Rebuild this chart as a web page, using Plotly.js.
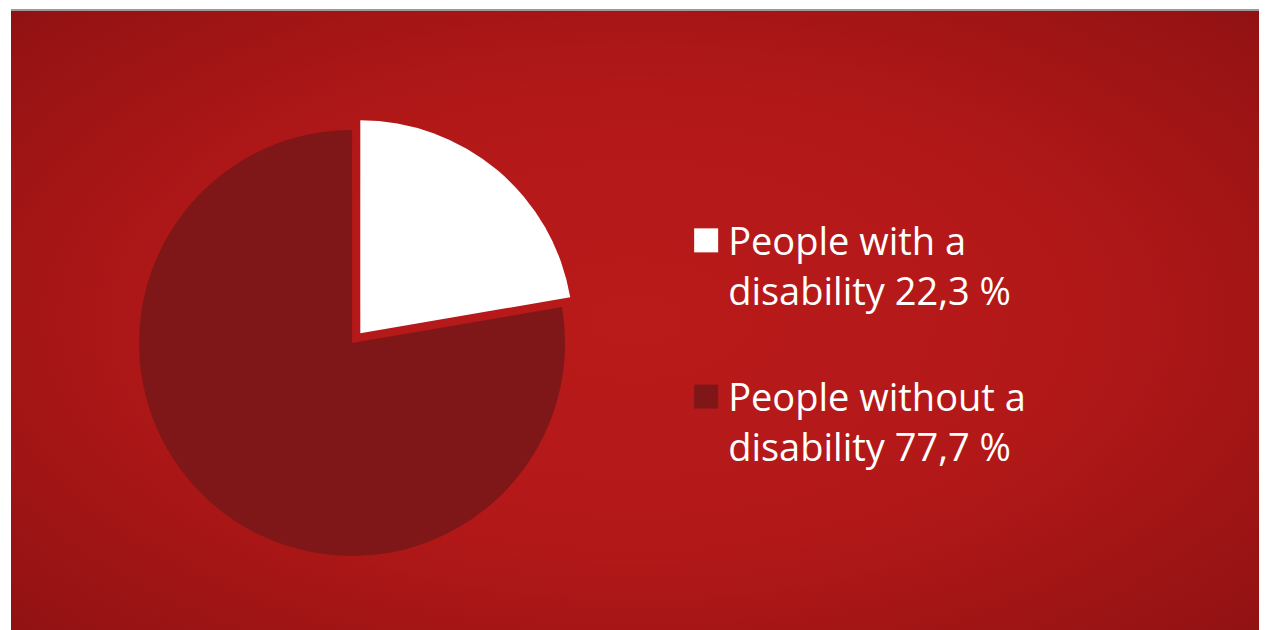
<!DOCTYPE html>
<html>
<head>
<meta charset="utf-8">
<script src="https://cdn.plot.ly/plotly-3.0.1.min.js"></script>
<style>
  html, body { margin: 0; padding: 0; background: #ffffff; }
  #wrap { position: relative; width: 1265px; height: 630px; overflow: hidden; }
  #bg {
    position: absolute; left: 11px; top: 11px; width: 1248px; height: 619px;
    background: radial-gradient(ellipse 75% 80% at 50% 50%, #b91a1a 0%, #b31818 45%, #9e1415 75%, #8a1112 100%);
  }
  #topline { position: absolute; left: 11px; top: 9px; width: 1248px; height: 2px; background: #a39696; }
  #chart { position: absolute; left: 0; top: 0; width: 1265px; height: 630px; }
</style>
</head>
<body>
<div id="wrap">
  <div id="bg"></div>
  <div id="topline"></div>
  <div id="chart"></div>
</div>
<script>
// Data
const categories = ["People with a disability", "People without a disability"];
const values = [22.3, 77.7];
const legendLabels = ["People with a<br>disability 22,3 %<br>\u00a0", "People without a<br>disability 77,7 %"];
const sliceColors = ["#ffffff", "#7f1718"];
const pulls = [0.06, 0];

const trace = {
  type: "pie",
  labels: legendLabels,
  values: values,
  customdata: categories,
  sort: false,
  direction: "clockwise",
  rotation: 0,
  pull: pulls,
  textinfo: "none",
  hovertemplate: "%{customdata}: %{value} %<extra></extra>",
  marker: { colors: sliceColors, line: { width: 0 } },
  domain: { x: [0.0998, 0.4568], y: [0.0972, 0.814] }
};

const layout = {
  width: 1265,
  height: 630,
  margin: { l: 0, r: 0, t: 0, b: 0 },
  paper_bgcolor: "rgba(0,0,0,0)",
  plot_bgcolor: "rgba(0,0,0,0)",
  showlegend: true,
  legend: {
    x: 0.544, y: 0.668, xanchor: "left", yanchor: "top",
    valign: "top",
    bgcolor: "rgba(0,0,0,0)",
    font: { family: "'Open Sans', Lato, sans-serif", size: 38, color: "#ffffff" },
    tracegroupgap: 0
  }
};

Plotly.newPlot("chart", [trace], layout, { displayModeBar: false, staticPlot: true }).then(function () {
  document.querySelectorAll("#chart .legend .legendpoints path").forEach(function (p) {
    p.setAttribute("transform", (p.getAttribute("transform") || "") + " translate(-2,0) scale(2)");
  });
  var items = document.querySelectorAll("#chart .legend .traces");
  if (items.length > 1) {
    var t = items[1].getAttribute("transform") || "";
    items[1].setAttribute("transform", t + " translate(0,5)");
  }
  document.querySelectorAll("#chart .legend [clip-path]").forEach(function (el) {
    el.removeAttribute("clip-path");
  });
});
</script>
</body>
</html>
